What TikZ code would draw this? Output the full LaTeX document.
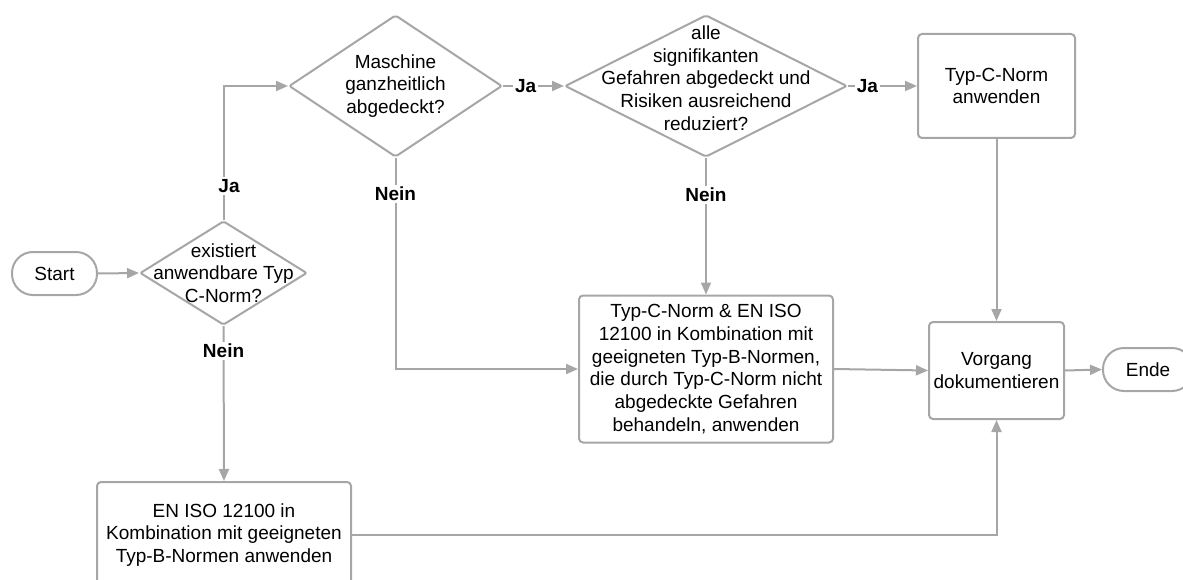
\documentclass[tikz,border=0pt]{standalone}
\usepackage{fontspec}
\setmainfont{Liberation Sans}
\usetikzlibrary{shapes.geometric,arrows.meta}
\definecolor{lc}{RGB}{166,166,166}
\tikzset{
  base/.style={font=\fontsize{19}{22.7}\selectfont, text=black},
  proc/.style={base, draw=lc, line width=2pt, rounded corners=4pt, align=center, inner sep=0pt},
  term/.style={base, draw=lc, line width=2pt, rounded corners=21pt, inner sep=0pt},
  dia/.style={draw=lc, line width=2pt, diamond, inner sep=0pt, rounded corners=2pt},
  dtext/.style={base, align=center, inner sep=0pt},
  conn/.style={draw=lc, line width=2pt, -{Triangle[length=12pt,width=10pt]}},
  lab/.style={base, font=\fontsize{19}{22.7}\selectfont\bfseries, fill=white, inner sep=2pt}
}
\begin{document}
\begin{tikzpicture}[x=1pt,y=-1pt]
\useasboundingbox (0,0) rectangle (1183,580);
% nodes
\node[term, minimum width=85pt, minimum height=43pt] (start) at (54.5,273.5) {Start};
\node[dia, minimum width=167pt, minimum height=104pt] (d1) at (223.5,273) {};
\node[dtext] (d1t) at (d1.center) {existiert\\anwendbare Typ\\C-Norm?};
\node[dia, minimum width=213pt, minimum height=142pt] (d2) at (395.5,86) {};
\node[dtext] (d2t) at (d2.center) {Maschine\\ganzheitlich\\abgedeckt?};
\node[dia, minimum width=282pt, minimum height=142pt] (d3) at (706,86) {};
\node[dtext] (d3t) at ([yshift=8pt]d3.center) {alle\\signifikanten\\Gefahren abgedeckt und\\Risiken ausreichend\\reduziert?};
\node[proc, minimum width=157pt, minimum height=104pt] (tc) at (996.5,86) {Typ-C-Norm\\anwenden};
\node[proc, minimum width=254pt, minimum height=147pt] (kb) at (706,369) {Typ-C-Norm \& EN ISO\\12100 in Kombination mit\\geeigneten Typ-B-Normen,\\die durch Typ-C-Norm nicht\\abgedeckte Gefahren\\behandeln, anwenden};
\node[proc, minimum width=135pt, minimum height=97pt] (vg) at (996.5,370.5) {Vorgang\\dokumentieren};
\node[term, minimum width=90pt, minimum height=43pt] (ende) at (1148,369.5) {Ende};
\node[proc, minimum width=254pt, minimum height=106pt] (bb) at (224,535) {EN ISO 12100 in\\Kombination mit geeigneten\\Typ-B-Normen anwenden};
% connectors
\draw[conn] (start.east) -- (d1.west);
\draw[conn] (d1.north) |- (d2.west);
\node[lab] (ja1) at (229,186) {Ja};
\draw[conn] (d2.east) -- node[lab, pos=0.37] (ja2) {Ja} (d3.west);
\draw[conn] (d3.east) -- node[lab, pos=0.28] (ja3) {Ja} (tc.west);
\draw[conn] (d2.south) |- (kb.west);
\node[lab] (nein2) at (395.5,194) {Nein};
\draw[conn] (d3.south) -- node[lab, pos=0.27] (nein3) {Nein} (kb.north);
\draw[conn] (d1.south) -- node[lab, pos=0.16] (nein1) {Nein} (bb.north);
\draw[conn] (tc.south) -- (vg.north);
\draw[conn] (kb.east) -- (vg.west);
\draw[conn] (vg.east) -- (ende.west);
\draw[conn] (bb.east) -| (vg.south);
\end{tikzpicture}
\end{document}
